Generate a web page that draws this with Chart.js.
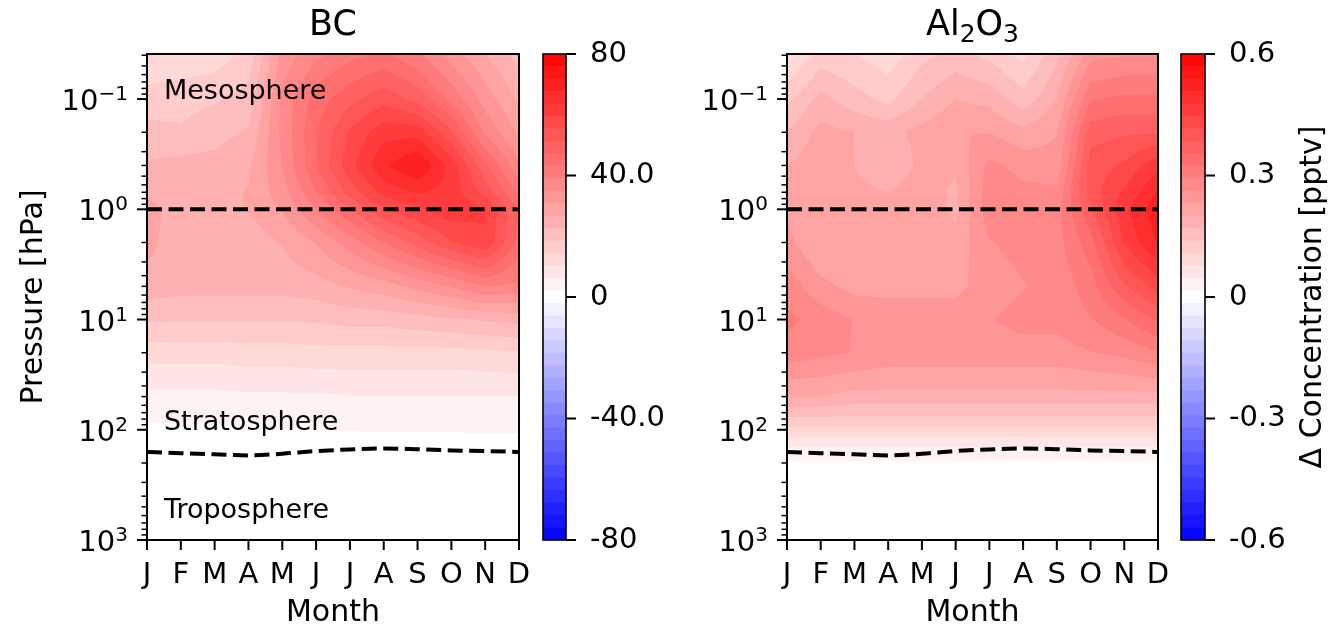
<!DOCTYPE html>
<html>
<head>
    <meta charset="UTF-8">
    <title>BC and Al2O3 concentration change</title>
    <script src="https://cdn.jsdelivr.net/npm/chart.js"></script>
    <style>
        body { margin: 0; background: #fff; }
        #wrap { position: relative; width: 1342px; height: 628px; overflow: hidden; }
        #wrap canvas { position: absolute; top: 0; }
    </style>
</head>
<body>
<div id="wrap">
    <canvas id="bcPanel" width="549" height="628" style="left:0"></canvas>
    <canvas id="bcBar" width="140" height="628" style="left:530px"></canvas>
    <canvas id="alPanel" width="548" height="628" style="left:640px"></canvas>
    <canvas id="alBar" width="174" height="628" style="left:1168px"></canvas>
</div>

<script>
    const MONTHS = ['J', 'F', 'M', 'A', 'M', 'J', 'J', 'A', 'S', 'O', 'N', 'D'];
    const PRESSURE_LEVELS = [0.04, 0.1, 0.2, 0.4, 0.7, 1, 2, 5, 10, 20, 50, 100, 150, 200, 1000];

    // monthly change per pressure level (rows follow PRESSURE_LEVELS)
    const BC_DELTA = [
        [11, 11, 12, 16, 32, 38, 42, 44, 40, 33, 27, 21],
        [16, 17, 18, 20, 36, 45, 50, 54, 50, 42, 33, 26],
        [20, 19, 21, 23, 36, 47, 56, 62, 62, 52, 38, 30],
        [23, 24, 24, 26, 35, 47, 58, 67, 72, 62, 48, 36],
        [26, 25, 25, 27, 33, 43, 53, 61, 64, 62, 54, 42],
        [28, 25, 25, 27, 31, 39, 47, 55, 59, 62, 60, 47],
        [28, 24, 24, 24, 27, 31, 37, 43, 49, 55, 59, 46],
        [25, 24, 24, 24, 24, 25, 27, 29, 32, 35, 39, 38],
        [19, 19, 19, 19, 19, 19, 20, 20, 21, 22, 23, 24],
        [12, 12, 12, 12.5, 12.5, 13, 13, 13, 13, 13, 13.5, 14],
        [5, 5, 5, 5.5, 5.5, 5.5, 6, 6, 6, 6, 6, 6],
        [1.2, 1.3, 1.5, 1.8, 1.8, 2, 2.2, 2.3, 2.3, 2.3, 2.4, 2.4],
        [0.3, 0.3, 0.3, 0.3, 0.3, 0.3, 0.3, 0.3, 0.3, 0.3, 0.3, 0.3],
        [0, 0, 0, 0, 0, 0, 0, 0, 0, 0, 0, 0],
        [0, 0, 0, 0, 0, 0, 0, 0, 0, 0, 0, 0]
    ];

    const AL2O3_DELTA = [
        [0.07, 0.12, 0.11, 0.09, 0.13, 0.15, 0.13, 0.10, 0.16, 0.25, 0.26, 0.26],
        [0.13, 0.18, 0.15, 0.13, 0.17, 0.20, 0.19, 0.15, 0.20, 0.32, 0.33, 0.33],
        [0.17, 0.21, 0.20, 0.19, 0.21, 0.23, 0.23, 0.21, 0.23, 0.37, 0.38, 0.38],
        [0.20, 0.22, 0.20, 0.17, 0.21, 0.205, 0.27, 0.25, 0.24, 0.40, 0.42, 0.47],
        [0.21, 0.22, 0.21, 0.20, 0.22, 0.193, 0.28, 0.27, 0.27, 0.40, 0.45, 0.51],
        [0.22, 0.22, 0.22, 0.21, 0.22, 0.193, 0.28, 0.29, 0.28, 0.38, 0.47, 0.53],
        [0.24, 0.20, 0.21, 0.21, 0.21, 0.21, 0.26, 0.27, 0.28, 0.34, 0.45, 0.51],
        [0.28, 0.24, 0.22, 0.22, 0.22, 0.22, 0.25, 0.26, 0.27, 0.31, 0.38, 0.43],
        [0.30, 0.28, 0.26, 0.25, 0.25, 0.25, 0.26, 0.27, 0.27, 0.29, 0.32, 0.36],
        [0.28, 0.27, 0.26, 0.25, 0.25, 0.25, 0.25, 0.25, 0.25, 0.26, 0.27, 0.29],
        [0.20, 0.20, 0.19, 0.19, 0.19, 0.19, 0.19, 0.19, 0.19, 0.19, 0.19, 0.19],
        [0.10, 0.10, 0.10, 0.10, 0.10, 0.10, 0.10, 0.10, 0.10, 0.10, 0.10, 0.10],
        [0.04, 0.04, 0.04, 0.04, 0.04, 0.04, 0.04, 0.04, 0.04, 0.04, 0.04, 0.04],
        [0.012, 0.012, 0.012, 0.012, 0.012, 0.012, 0.012, 0.012, 0.012, 0.012, 0.012, 0.012],
        [0, 0, 0, 0, 0, 0, 0, 0, 0, 0, 0, 0]
    ];

    const TROPOPAUSE_HPA = [159, 163, 167, 171, 165, 156, 151, 148, 150, 154, 156, 159];
    const STRATOPAUSE_HPA = 1;

    const PRESSURE_TICKS = [0.1, 1, 10, 100, 1000];
    const PRESSURE_TICK_LABELS = ['10⁻¹', '10⁰', '10¹', '10²', '10³'];
    const BC_CBAR_TICKS = [-80, -40, 0, 40, 80];
    const BC_CBAR_LABELS = ['-80', '-40.0', '0', '40.0', '80'];
    const AL_CBAR_TICKS = [-0.6, -0.3, 0, 0.3, 0.6];
    const AL_CBAR_LABELS = ['-0.6', '-0.3', '0', '0.3', '0.6'];
    const LAYER_NAMES = ['Mesosphere', 'Stratosphere', 'Troposphere'];

    const FONT = 'DejaVu Sans';
    Chart.defaults.font.family = FONT;
    Chart.defaults.font.size = 29;
    Chart.defaults.color = '#000';

    // 39 filled levels on the blue-white-red map
    const N_BANDS = 39;
    function bwr(t) {
        const r = t < 0.5 ? 2 * t : 1;
        const g = t < 0.5 ? 2 * t : 2 * (1 - t);
        const b = t < 0.5 ? 1 : 2 * (1 - t);
        return [Math.round(r * 255), Math.round(g * 255), Math.round(b * 255)];
    }
    const BAND_COLORS = Array.from({length: N_BANDS}, (_, k) => bwr((k + 0.5) / N_BANDS));

    // text with raised / lowered small digits, like 10⁻¹ or Al₂O₃
    const SUPERS = {'⁻': '−', '⁰': '0', '¹': '1', '²': '2', '³': '3'};
    const SUBS = {'₂': '2', '₃': '3'};
    function drawScripted(ctx, text, x, y, size, align) {
        const runs = [];
        for (const ch of text) {
            const shift = ch in SUPERS ? -0.34 * size : ch in SUBS ? 0.22 * size : 0;
            const c = SUPERS[ch] || SUBS[ch] || ch;
            const prev = runs[runs.length - 1];
            if (prev && prev.shift === shift) prev.t += c;
            else runs.push({t: c, shift: shift});
        }
        const fontFor = r => (r.shift ? Math.round(size * 0.7) : size) + 'px "' + FONT + '"';
        let width = 0;
        runs.forEach(r => { ctx.font = fontFor(r); r.w = ctx.measureText(r.t).width; width += r.w; });
        let cx = align === 'right' ? x - width : align === 'center' ? x - width / 2 : x;
        ctx.textAlign = 'left';
        ctx.textBaseline = 'alphabetic';
        runs.forEach(r => { ctx.font = fontFor(r); ctx.fillText(r.t, cx, y + r.shift); cx += r.w; });
    }

    // fills the plot area with banded colours from the month x pressure grid
    const contourFill = {
        id: 'contourFill',
        beforeDatasetsDraw(chart, args, opts) {
            const {ctx, chartArea: a, scales: {x, y}} = chart;
            const left = Math.round(a.left), top = Math.round(a.top);
            const w = Math.round(a.right) - left, h = Math.round(a.bottom) - top;
            const off = document.createElement('canvas');
            off.width = w; off.height = h;
            const octx = off.getContext('2d');
            const img = octx.createImageData(w, h);
            const logs = PRESSURE_LEVELS.map(Math.log10);
            const step = (opts.vmax - opts.vmin) / N_BANDS;
            const last = MONTHS.length - 1;

            const cols = [];
            for (let i = 0; i < w; i++) {
                const m = Math.min(Math.max(x.getValueForPixel(left + i + 0.5), 0), last);
                const c = Math.min(Math.floor(m), last - 1);
                cols.push([c, m - c]);
            }
            for (let j = 0; j < h; j++) {
                const lp = Math.log10(y.getValueForPixel(top + j + 0.5));
                let r = 0;
                while (r < logs.length - 2 && lp > logs[r + 1]) r++;
                const f = Math.min(Math.max((lp - logs[r]) / (logs[r + 1] - logs[r]), 0), 1);
                const row0 = opts.grid[r], row1 = opts.grid[r + 1];
                for (let i = 0; i < w; i++) {
                    const [c, g] = cols[i];
                    const v0 = row0[c] * (1 - g) + row0[c + 1] * g;
                    const v1 = row1[c] * (1 - g) + row1[c + 1] * g;
                    const v = v0 * (1 - f) + v1 * f;
                    let k = Math.floor((v - opts.vmin) / step);
                    k = Math.min(Math.max(k, 0), N_BANDS - 1);
                    const col = BAND_COLORS[k];
                    const p = (j * w + i) * 4;
                    img.data[p] = col[0];
                    img.data[p + 1] = col[1];
                    img.data[p + 2] = col[2];
                    img.data[p + 3] = 255;
                }
            }
            octx.putImageData(img, 0, 0);
            ctx.drawImage(off, left, top);
        }
    };

    // spines, tick marks, pressure labels, panel title and layer names
    const panelFrame = {
        id: 'panelFrame',
        afterDraw(chart, args, opts) {
            const {ctx, chartArea: a, scales: {x, y}} = chart;
            const seg = (x1, y1, x2, y2) => {
                ctx.beginPath(); ctx.moveTo(x1, y1); ctx.lineTo(x2, y2); ctx.stroke();
            };
            ctx.save();
            ctx.strokeStyle = '#000';
            ctx.fillStyle = '#000';

            ctx.lineWidth = 2;
            MONTHS.forEach((_, i) => {
                const px = x.getPixelForValue(i);
                seg(px, a.bottom, px, a.bottom + 10);
            });
            for (let e = -2; e <= 3; e++) {
                for (let k = 1; k <= 9; k++) {
                    const v = k * Math.pow(10, e);
                    if (v < y.min * 0.999 || v > y.max * 1.001) continue;
                    const py = y.getPixelForValue(v);
                    ctx.lineWidth = k === 1 ? 2 : 1.5;
                    seg(a.left - (k === 1 ? 10 : 5.5), py, a.left, py);
                }
            }
            PRESSURE_TICKS.forEach((v, i) => {
                drawScripted(ctx, PRESSURE_TICK_LABELS[i], a.left - 19, y.getPixelForValue(v) + 11, 29, 'right');
            });

            ctx.lineWidth = 2;
            ctx.strokeRect(a.left, a.top, a.right - a.left, a.bottom - a.top);

            drawScripted(ctx, opts.title, (a.left + a.right) / 2, 34.5, 35, 'center');

            if (opts.layers) {
                ctx.font = '27px "' + FONT + '"';
                ctx.textAlign = 'left';
                ctx.textBaseline = 'alphabetic';
                opts.layers.forEach(l => {
                    ctx.fillText(l.text, x.getPixelForValue(0.5), y.getPixelForValue(l.hPa));
                });
            }
            ctx.restore();
        }
    };

    function panel(id, title, grid, vmax, showYTitle, layers) {
        return new Chart(document.getElementById(id), {
            type: 'line',
            data: {
                datasets: [
                    {
                        data: [{x: 0, y: STRATOPAUSE_HPA}, {x: MONTHS.length - 1, y: STRATOPAUSE_HPA}],
                        borderColor: '#000', borderWidth: 4, borderDash: [15, 6.5],
                        pointRadius: 0
                    },
                    {
                        data: TROPOPAUSE_HPA.map((p, i) => ({x: i, y: p})),
                        borderColor: '#000', borderWidth: 4, borderDash: [15, 6.5],
                        pointRadius: 0, cubicInterpolationMode: 'monotone'
                    }
                ]
            },
            options: {
                responsive: false,
                animation: false,
                events: [],
                layout: {padding: {top: 54, right: 30, left: 0, bottom: 0}},
                plugins: {
                    legend: {display: false},
                    tooltip: {enabled: false},
                    contourFill: {grid: grid, vmin: -vmax, vmax: vmax},
                    panelFrame: {title: title, layers: layers}
                },
                scales: {
                    x: {
                        type: 'linear', min: 0, max: MONTHS.length - 1,
                        grid: {display: false, drawTicks: false},
                        border: {display: false},
                        afterBuildTicks: s => { s.ticks = MONTHS.map((_, i) => ({value: i})); },
                        afterFit: s => { s.height = 88; },
                        ticks: {
                            padding: 18, autoSkip: false, maxRotation: 0, minRotation: 0,
                            callback: (v, i) => MONTHS[i]
                        },
                        title: {
                            display: true, text: 'Month',
                            font: {size: 30, lineHeight: 1.0}, padding: {top: 0, bottom: 0}
                        }
                    },
                    y: {
                        type: 'logarithmic', reverse: true, min: 0.039, max: 1000,
                        grid: {display: false, drawTicks: false},
                        border: {display: false},
                        afterBuildTicks: s => { s.ticks = PRESSURE_TICKS.map(v => ({value: v})); },
                        afterFit: s => { s.width = 147; },
                        ticks: {display: false},
                        title: {
                            display: showYTitle, text: 'Pressure [hPa]',
                            font: {size: 30}, padding: {top: 16.5, bottom: 0}
                        }
                    }
                }
            },
            plugins: [contourFill, panelFrame]
        });
    }

    // frame, ticks and rotated label for a colour bar
    const cbarFrame = {
        id: 'cbarFrame',
        afterDraw(chart, args, opts) {
            const {ctx, chartArea: a, scales: {y}} = chart;
            ctx.save();
            ctx.strokeStyle = '#000';
            ctx.fillStyle = '#000';
            ctx.lineWidth = 2;
            opts.ticks.forEach(v => {
                const py = y.getPixelForValue(v);
                ctx.beginPath(); ctx.moveTo(a.right, py); ctx.lineTo(a.right + 10, py); ctx.stroke();
            });
            ctx.lineWidth = 1.6;
            ctx.strokeRect(a.left, a.top, a.right - a.left, a.bottom - a.top);
            if (opts.label) {
                ctx.translate(opts.labelX, (a.top + a.bottom) / 2);
                ctx.rotate(-Math.PI / 2);
                ctx.font = '30px "' + FONT + '"';
                ctx.textAlign = 'center';
                ctx.textBaseline = 'middle';
                ctx.fillText(opts.label, 0, 0);
            }
            ctx.restore();
        }
    };

    function colorbar(id, vmax, ticks, labels, axisWidth, label) {
        const step = 2 * vmax / N_BANDS;
        const datasets = BAND_COLORS.map((c, k) => ({
            data: [[-vmax + k * step, -vmax + (k + 1) * step]],
            backgroundColor: 'rgb(' + c.join(',') + ')',
            borderWidth: 0,
            grouped: false,
            barPercentage: 1,
            categoryPercentage: 1
        }));
        return new Chart(document.getElementById(id), {
            type: 'bar',
            data: {labels: [''], datasets: datasets},
            options: {
                responsive: false,
                animation: false,
                events: [],
                layout: {padding: {top: 54, bottom: 88, left: 13, right: 0}},
                plugins: {
                    legend: {display: false},
                    tooltip: {enabled: false},
                    cbarFrame: {ticks: ticks, label: label, labelX: 145}
                },
                scales: {
                    x: {display: false},
                    y: {
                        position: 'right', min: -vmax, max: vmax,
                        grid: {display: false, drawTicks: false},
                        border: {display: false},
                        afterBuildTicks: s => { s.ticks = ticks.map(v => ({value: v})); },
                        afterFit: s => { s.width = axisWidth; },
                        ticks: {padding: 24, autoSkip: false, callback: (v, i) => labels[i]}
                    }
                }
            },
            plugins: [cbarFrame]
        });
    }

    panel('bcPanel', 'BC', BC_DELTA, 80, true, [
        {text: LAYER_NAMES[0], hPa: 0.1},
        {text: LAYER_NAMES[1], hPa: 100},
        {text: LAYER_NAMES[2], hPa: 630}
    ]);
    colorbar('bcBar', 80, BC_CBAR_TICKS, BC_CBAR_LABELS, 104, null);
    panel('alPanel', 'Al₂O₃', AL2O3_DELTA, 0.6, false, null);
    colorbar('alBar', 0.6, AL_CBAR_TICKS, AL_CBAR_LABELS, 137, 'Δ Concentration [pptv]');
</script>
</body>
</html>
